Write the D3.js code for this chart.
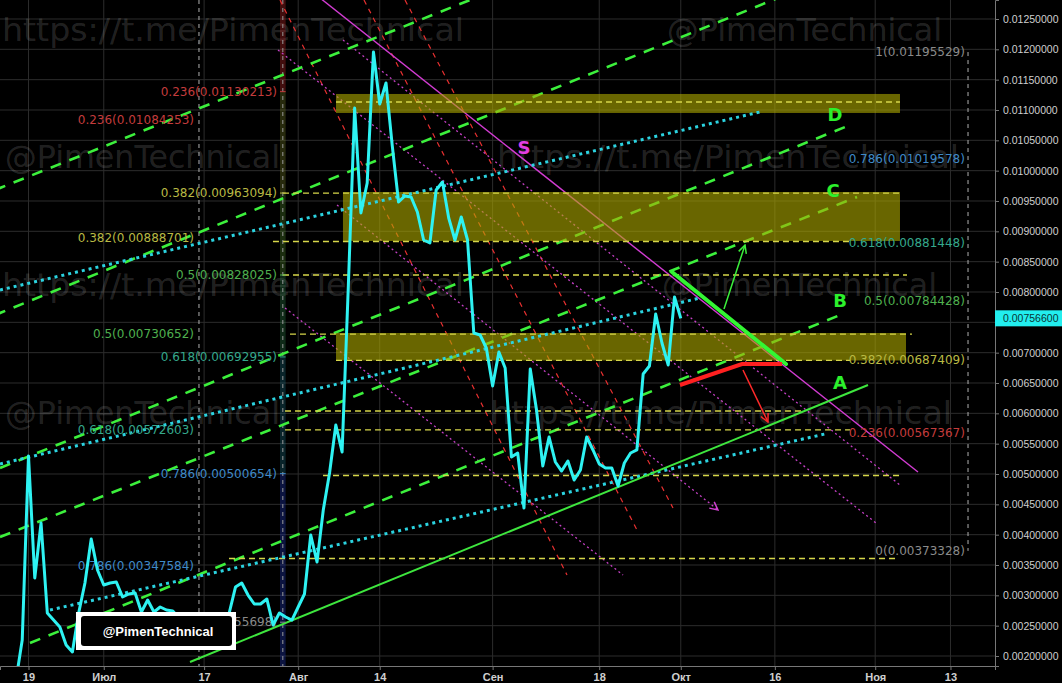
<!DOCTYPE html>
<html><head><meta charset="utf-8">
<script src="https://cdn.jsdelivr.net/npm/d3@7"></script>
<style>
html,body{margin:0;padding:0;background:#000;}
svg{display:block;}
</style></head>
<body>
<svg id="chart" width="1062" height="683"></svg>
<script>
// ---------- DATA ----------
// day offsets are counted from 19 Jun 2018
const baseDate = [2018, 5, 19];
const priceStartDay = -2;
const prices = [
  0.00160, 0.002264, 0.005297, 0.003286, 0.004192, 0.002709, 0.002593, 0.002478, 0.002181, 0.002066,
  0.002709, 0.003203, 0.003929, 0.003418, 0.003170, 0.003203, 0.003220, 0.002973, 0.003022, 0.003038,
  0.002725, 0.002923, 0.002725, 0.002808, 0.002758, 0.002742, 0.002626, 0.002560, 0.002593, 0.002495,
  0.002577, 0.002643, 0.002544, 0.002626, 0.002709, 0.003137, 0.003203, 0.003005, 0.002857, 0.002857,
  0.002940, 0.002511, 0.002709, 0.002643, 0.002593, 0.002808, 0.003022, 0.003995, 0.003549, 0.004407,
  0.005016, 0.005808, 0.005363, 0.008115, 0.011033, 0.009302, 0.009797, 0.011955, 0.011099, 0.011445,
  0.010407, 0.009484, 0.009582, 0.009566, 0.009319, 0.008857, 0.008808, 0.009681, 0.009813, 0.009220,
  0.008857, 0.009236, 0.008857, 0.007324, 0.007291, 0.007077, 0.006451, 0.007011, 0.006747, 0.005280,
  0.005346, 0.004440, 0.006731, 0.006055, 0.005132, 0.005610, 0.005198, 0.005049, 0.005214, 0.004901,
  0.005066, 0.005610, 0.005396, 0.005165, 0.005099, 0.005099, 0.004802, 0.005181, 0.005346, 0.005396,
  0.006648, 0.006780, 0.007637, 0.007159, 0.006797, 0.007918, 0.007566
];
const lastPrice = 0.007566;

const tickDays = [0, 12, 28, 43, 56, 74, 91, 104, 119, 135, 147];
const tickLabels = ["19", "Июл", "17", "Авг", "14", "Сен", "18", "Окт", "16", "Ноя", "13"];
const yTicks = [0.002,0.0025,0.003,0.0035,0.004,0.0045,0.005,0.0055,0.006,0.0065,0.007,
                0.0075,0.008,0.0085,0.009,0.0095,0.010,0.0105,0.011,0.0115,0.012,0.0125];
const viewDays = [-4.544, 154.1];
const viewPrices = [0.0018352, 0.012813];

// Fibonacci retracements
const fib1Ratios = [0.236, 0.382, 0.5, 0.618, 0.786, 1];
const fib1Prices = [0.01130213, 0.00963094, 0.00828025, 0.00692955, 0.00500654, 0.00255698];
const fib1Day = 39.62;
const fib2Ratios = [0.236, 0.382, 0.5, 0.618, 0.786];
const fib2Prices = [0.01084253, 0.00888701, 0.00730652, 0.00572603, 0.00347584];
const fib2Day = 26.39;
const fib3Ratios = [1, 0.786, 0.618, 0.5, 0.382, 0.236, 0];
const fib3Prices = [0.01195529, 0.01019578, 0.00881448, 0.00784428, 0.00687409, 0.00567367, 0.00373328];
const fib3Day = 149.3;

// zones [dayStart, dayEnd, priceTop, priceBottom]
const zoneDayStart = [49.03, 50.14, 49.03];
const zoneDayEnd = [138.95, 138.95, 139.91];
const zoneTop = [0.011264, 0.0096483, 0.0073242];
const zoneBottom = [0.010951, 0.0088406, 0.006871];

// horizontal dashed levels
const hLevels = [0.0111318, 0.00963094, 0.0088324, 0.00828025, 0.00730652, 0.00687409, 0.0060385, 0.00572603, 0.0049753, 0.0036072];
const hDayStart = [49.03, 40.58, 38.98, 40.58, 41.69, 49.03, 40.90, 40.90, 46.96, 31.97];
const hDayEnd = [138.95, 138.95, 131.0, 140.07, 140.86, 131.0, 123.8, 131.0, 138.95, 138.16];

// trend lines [day1, price1, day2, price2]
const greenDashed = [
  [-5.341, 0.0096813, 71.99, 0.012879],
  [-5.341, 0.0076208, 123.0, 0.012994],
  [-4.544, 0.0050989, 130.98, 0.0107527],
  [-4.544, 0.0039615, 132.10, 0.0095659],
  [0.239, 0.0022143, 130.18, 0.0076538]
];
const supportA = [25.75, 0.0019011, 133.85, 0.006467];
const cyanDotted = [
  [-4.544, 0.0080329, 116.63, 0.0109670],
  [-4.544, 0.0051648, 107.06, 0.0079011],
  [3.428, 0.0027582, 126.99, 0.0056593]
];
const resistanceS = [45.68, 0.012912, 141.82, 0.0050330];
const magentaDotted = [
  [50.14, 0.0121538, 138.95, 0.0048187],
  [39.78, 0.0119889, 135.13, 0.0041923],
  [40.90, 0.0077362, 94.79, 0.0033352]
];
const magentaArrow = [49.19, 0.0094341, 109.93, 0.0044066];
const redDashed = [
  [40.10, 0.012813, 85.86, 0.0033352],
  [53.49, 0.012813, 97.02, 0.0040769],
  [60.03, 0.012813, 102.76, 0.0044396]
];
const greenThick = [102.6, 0.0083296, 120.78, 0.0068131];
const redThickDays = [103.87, 113.76, 120.14];
const redThickPrices = [0.006467, 0.0068131, 0.0068131];
const redArrow = [113.92, 0.0067142, 117.90, 0.0058571];
const greenArrow = [110.89, 0.0077197, 114.24, 0.0087746];

const letterText = ["D", "C", "B", "A"];
const letterDays = [128.6, 128.27, 129.39, 129.39];
const letterPrices = [0.0109176, 0.0096648, 0.0078517, 0.0065];
const sLabel = [79.0, 0.0103736];
const whiteVDay = 27.18;
const bandDays = [40.1, 41.0];
const rightVDay = 149.8;

// ---------- DRAW ----------
const W = 1062, H = 683, PW = 995, PH = 666;
const t0 = Date.UTC(baseDate[0], baseDate[1], baseDate[2]);
const dt = d => new Date(t0 + d * 864e5);
const x = d3.scaleUtc().domain(viewDays.map(dt)).range([0, PW]);
const y = d3.scaleLinear().domain(viewPrices).range([PH, 0]);
const X = d => x(dt(d));

const svg = d3.select("#chart");
svg.append("rect").attr("width", W).attr("height", H).attr("fill", "#000");

const defs = svg.append("defs");
defs.append("clipPath").attr("id", "plot").append("rect").attr("width", PW).attr("height", PH);
function marker(id, color) {
  defs.append("marker").attr("id", id).attr("viewBox", "0 0 10 10")
    .attr("refX", 9).attr("refY", 5).attr("markerWidth", 10).attr("markerHeight", 10)
    .attr("markerUnits", "userSpaceOnUse").attr("orient", "auto")
    .append("path").attr("d", "M1,1 L9,5 L1,9").attr("fill", "none")
    .attr("stroke", color).attr("stroke-width", 1.5);
}
marker("arrRed", "#ff2a2a");
marker("arrGreen", "#3cf03c");
marker("arrMag", "#d040d0");

const g = svg.append("g").attr("clip-path", "url(#plot)");

// grid
g.append("g").selectAll("line").data(yTicks).join("line")
  .attr("x1", 0).attr("x2", PW).attr("y1", d => y(d)).attr("y2", d => y(d))
  .attr("stroke", "#2c2c2c").attr("stroke-width", 1);
g.append("g").selectAll("line").data(tickDays).join("line")
  .attr("x1", d => X(d)).attr("x2", d => X(d)).attr("y1", 0).attr("y2", PH)
  .attr("stroke", "#2c2c2c").attr("stroke-width", 1);

// watermarks
const wmHttp = "https://t.me/PimenTechnical", wmAt = "@PimenTechnical";
const wm = [[wmHttp, 2, 41, 462], [wmAt, 667, 41, 275],
            [wmAt, 5, 168, 275], [wmHttp, 497, 168, 462],
            [wmHttp, 2, 296, 462], [wmAt, 662, 296, 275],
            [wmAt, 5, 424, 275], [wmHttp, 490, 424, 462]];
g.append("g").selectAll("text").data(wm).join("text")
  .attr("x", d => d[1]).attr("y", d => d[2]).text(d => d[0])
  .attr("textLength", d => d[3]).attr("lengthAdjust", "spacingAndGlyphs")
  .attr("font-family", "DejaVu Sans").attr("font-size", 32)
  .attr("fill", "#ffffff").attr("fill-opacity", 0.15);

// vertical helper lines
g.append("line").attr("x1", X(whiteVDay)).attr("x2", X(whiteVDay)).attr("y1", 0).attr("y2", PH)
  .attr("stroke", "#b0b0b0").attr("stroke-width", 1).attr("stroke-dasharray", "4,4");
const bandEdges = [viewPrices[1]].concat(fib1Prices.slice(0, 5), [viewPrices[0]]);
const bandColors = ["rgba(190,40,40,0.35)", "rgba(120,130,40,0.32)", "rgba(90,150,50,0.3)",
                    "rgba(50,140,80,0.3)", "rgba(30,120,140,0.3)", "rgba(30,50,160,0.4)"];
g.append("g").selectAll("rect").data(bandColors).join("rect")
  .attr("x", X(bandDays[0])).attr("width", X(bandDays[1]) - X(bandDays[0]))
  .attr("y", (d, i) => y(bandEdges[i])).attr("height", (d, i) => y(bandEdges[i + 1]) - y(bandEdges[i]))
  .attr("fill", d => d);
const bandMid = (bandDays[0] + bandDays[1]) / 2;
g.append("line").attr("x1", X(bandMid)).attr("x2", X(bandMid)).attr("y1", 0).attr("y2", PH)
  .attr("stroke", "#9a9a9a").attr("stroke-width", 1).attr("stroke-dasharray", "4,4");
g.append("line").attr("x1", X(rightVDay)).attr("x2", X(rightVDay))
  .attr("y1", y(fib3Prices[0])).attr("y2", y(fib3Prices[fib3Prices.length - 1]))
  .attr("stroke", "#b0b0b0").attr("stroke-width", 1).attr("stroke-dasharray", "4,4");

function seg(parent, s, stroke, width, dash) {
  const l = parent.append("line")
    .attr("x1", X(s[0])).attr("y1", y(s[1])).attr("x2", X(s[2])).attr("y2", y(s[3]))
    .attr("stroke", stroke).attr("stroke-width", width);
  if (dash) l.attr("stroke-dasharray", dash);
  return l;
}

// red dashed
redDashed.forEach(s => seg(g, s, "#e83030", 1.2, "5,5"));
// magenta
seg(g, resistanceS, "#d23cd2", 1.4);
magentaDotted.forEach(s => seg(g, s, "#c640c6", 1.3, "2,3"));
seg(g, magentaArrow, "#c640c6", 1.3, "2,3").attr("marker-end", "url(#arrMag)");
// green dashed channel
greenDashed.forEach(s => seg(g, s, "#3cf03c", 2.6, "11,9"));

// zones
g.append("g").selectAll("rect").data(zoneTop).join("rect")
  .attr("x", (d, i) => X(zoneDayStart[i])).attr("width", (d, i) => X(zoneDayEnd[i]) - X(zoneDayStart[i]))
  .attr("y", d => y(d)).attr("height", (d, i) => y(zoneBottom[i]) - y(d))
  .attr("fill", "rgb(175,170,0)").attr("fill-opacity", 0.6);

// horizontal dashed levels
g.append("g").selectAll("line").data(hLevels).join("line")
  .attr("x1", (d, i) => X(hDayStart[i])).attr("x2", (d, i) => X(hDayEnd[i]))
  .attr("y1", d => y(d)).attr("y2", d => y(d))
  .attr("stroke", "#d6d64a").attr("stroke-width", 1.3).attr("stroke-dasharray", "6,4");

// cyan dotted
cyanDotted.forEach(s => seg(g, s, "#2bd3e0", 3, "3,4"));
// support A
seg(g, supportA, "#3ee63e", 2);

// fib labels
const fibColor = r => r === 0.236 ? "#c43c3c" : r === 0.382 ? "#b9b944" : r === 0.5 ? "#4fb04f"
  : r === 0.618 ? "#35a88c" : r === 0.786 ? "#3f8ac8" : "#8a8a8a";
function fibLabels(ratios, pricesArr, day) {
  g.append("g").selectAll("text").data(ratios).join("text")
    .attr("x", X(day)).attr("y", (d, i) => y(pricesArr[i]))
    .attr("text-anchor", "end").attr("dominant-baseline", "central")
    .attr("font-family", "DejaVu Sans").attr("font-size", 12)
    .attr("fill", d => fibColor(d))
    .text((d, i) => `${d}(${pricesArr[i].toFixed(8)})`);
}
fibLabels(fib1Ratios, fib1Prices, fib1Day);
fibLabels(fib2Ratios, fib2Prices, fib2Day);
fibLabels(fib3Ratios, fib3Prices, fib3Day);
g.append("g").selectAll("line").data(fib1Prices).join("line")
  .attr("x1", X(bandDays[0])).attr("x2", X(bandDays[1]))
  .attr("y1", d => y(d)).attr("y2", d => y(d))
  .attr("stroke", (d, i) => fibColor(fib1Ratios[i])).attr("stroke-width", 1);

// price line
const line = d3.line().x((d, i) => X(priceStartDay + i)).y(d => y(d));
g.append("path").datum(prices).attr("d", line)
  .attr("fill", "none").attr("stroke", "#2ef2f2").attr("stroke-width", 3)
  .attr("stroke-linejoin", "round");

// thick annotations and arrows
seg(g, greenThick, "#33f533", 4).attr("stroke-linecap", "round");
g.append("path")
  .datum(redThickDays.map((d, i) => [d, redThickPrices[i]]))
  .attr("d", d3.line().x(d => X(d[0])).y(d => y(d[1])))
  .attr("fill", "none").attr("stroke", "#ff2020").attr("stroke-width", 4);
seg(g, redArrow, "#ff2a2a", 1.5).attr("marker-end", "url(#arrRed)");
seg(g, greenArrow, "#3cf03c", 1.5).attr("marker-end", "url(#arrGreen)");

// letters
g.append("g").selectAll("text").data(letterText).join("text")
  .attr("x", (d, i) => X(letterDays[i])).attr("y", (d, i) => y(letterPrices[i]))
  .attr("text-anchor", "middle").attr("dominant-baseline", "central")
  .attr("font-family", "DejaVu Sans").attr("font-weight", "bold").attr("font-size", 18)
  .attr("fill", "#2cf02c").text(d => d);
g.append("text").attr("x", X(sLabel[0])).attr("y", y(sLabel[1]))
  .attr("text-anchor", "middle").attr("dominant-baseline", "central")
  .attr("font-family", "DejaVu Sans").attr("font-weight", "bold").attr("font-size", 18)
  .attr("fill", "#e23ee2").text("S");

// axes
const yAxis = svg.append("g").attr("transform", `translate(${PW},0)`)
  .call(d3.axisRight(y).tickValues(yTicks).tickFormat(d3.format(".8f")).tickSize(4).tickPadding(4));
const xAxis = svg.append("g").attr("transform", `translate(0,${PH})`)
  .call(d3.axisBottom(x).tickValues(tickDays.map(dt)).tickFormat((d, i) => tickLabels[i]).tickSize(4).tickPadding(3));
[yAxis, xAxis].forEach(a => {
  a.select(".domain").attr("stroke", "#777");
  a.selectAll(".tick line").attr("stroke", "#777");
  a.selectAll(".tick text").attr("fill", "#cfcfcf").attr("font-family", "Liberation Sans");
});
yAxis.selectAll(".tick text").attr("font-size", 10.5);
xAxis.selectAll(".tick text").attr("font-size", 11).attr("font-weight", "bold");

// last price tag
const ly = y(lastPrice);
svg.append("rect").attr("x", PW).attr("y", ly - 8).attr("width", W - PW).attr("height", 16).attr("fill", "#22eeee");
svg.append("text").attr("x", PW + 8).attr("y", ly).attr("dominant-baseline", "central")
  .attr("font-family", "Liberation Sans").attr("font-size", 10.5).attr("fill", "#0a3434")
  .text(d3.format(".8f")(lastPrice));

// signature box
svg.append("rect").attr("x", 76).attr("y", 612).attr("width", 160).attr("height", 38).attr("fill", "#ffffff");
svg.append("rect").attr("x", 81).attr("y", 616).attr("width", 151).attr("height", 30).attr("rx", 3).attr("fill", "#000");
svg.append("text").attr("x", 158).attr("y", 631).attr("text-anchor", "middle").attr("dominant-baseline", "central")
  .attr("font-family", "Liberation Sans").attr("font-weight", "bold").attr("font-size", 13)
  .attr("fill", "#ffffff").text("@PimenTechnical");
</script>
</body></html>
